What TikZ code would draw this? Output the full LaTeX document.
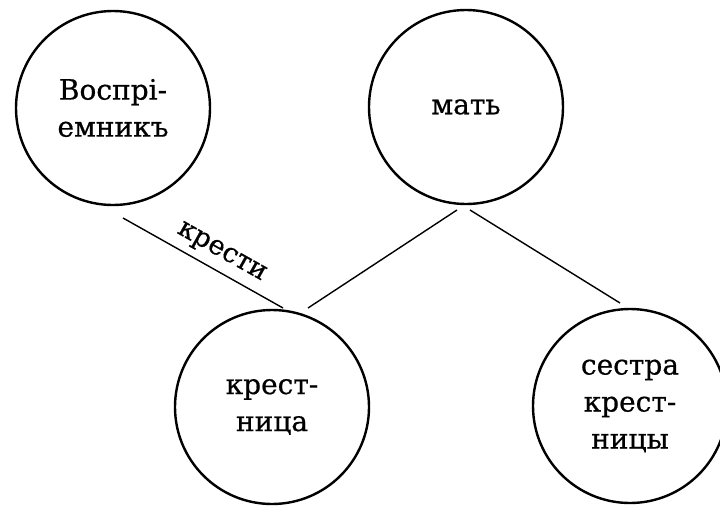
\documentclass[tikz,border=0pt]{standalone}
\usepackage{fontspec}
\setmainfont[FakeBold=0.6]{DejaVu Serif}
\begin{document}
\begin{tikzpicture}[x=1pt,y=-1pt,
  person/.style={circle, draw, line width=2.4pt, minimum size=194pt, inner sep=0pt,
    align=center, font=\fontsize{28}{37}\selectfont},
  link/.style={line width=1.4pt},
  lbl/.style={font=\fontsize{27}{30}\selectfont, inner sep=2pt}]
\useasboundingbox (0,0) rectangle (720,507);
\clip (0,0) rectangle (720,507);
\node[person] (A) at (113,108) {Воспрі-\\емникъ};
\node[person] (B) at (466,107) {мать};
\node[person] (C) at (272,407) {крест-\\ница};
\node[person] (D) at (630,406) {сестра\\крест-\\ницы};
\coordinate (a1) at (123,218);
\coordinate (c1) at (283,308);
\coordinate (b1) at (457,210);
\coordinate (c2) at (308,308);
\coordinate (b2) at (470,210);
\coordinate (d1) at (620,303);
\draw[link] (a1) -- node[lbl, sloped, above=5pt, pos=0.56] (k) {крести} (c1);
\draw[link] (b1) -- (c2);
\draw[link] (b2) -- (d1);
\end{tikzpicture}
\end{document}
